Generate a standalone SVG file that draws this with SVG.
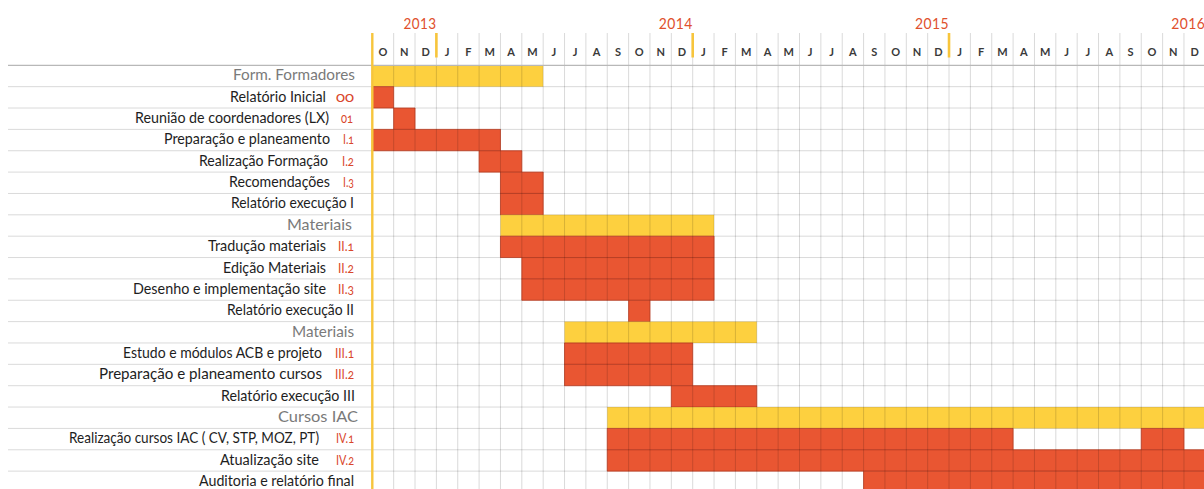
<svg xmlns="http://www.w3.org/2000/svg" width="1204" height="489" viewBox="0 0 1204 489">
<style>
.yr{font-family:Lato,"Liberation Sans",sans-serif;font-size:16px;fill:#e0502d;text-anchor:end;letter-spacing:0.5px}
.mo{font-family:Lato,"Liberation Sans",sans-serif;font-size:11px;font-weight:700;fill:#3a3a3a;text-anchor:middle}
.lb{font-family:Lato,"Liberation Sans",sans-serif;font-size:15px;fill:#1e1e1e;text-anchor:end}
.gr{font-family:Lato,"Liberation Sans",sans-serif;font-size:15px;fill:#7a7a7a;text-anchor:end}
.cd{font-family:Lato,"Liberation Sans",sans-serif;font-size:14px;fill:#d9462b;text-anchor:end;font-variant-numeric:oldstyle-nums}
.y{fill:#fdd03f}
.r{fill:#e95632;stroke:#d6482a;stroke-width:0.8;vector-effect:non-scaling-stroke}
.grid{fill:none;stroke:#000;stroke-opacity:0.15;stroke-width:1}
.tick{stroke:#f7c53c;stroke-width:2.6}
</style>
<rect width="1204" height="489" fill="#fff"/>

<g id="years">
<text class="yr" x="436.4" y="28.5" textLength="33" lengthAdjust="spacingAndGlyphs">2013</text>
<text class="yr" x="692.7" y="28.5" textLength="34" lengthAdjust="spacingAndGlyphs">2014</text>
<text class="yr" x="949" y="28.5" textLength="34" lengthAdjust="spacingAndGlyphs">2015</text>
<text class="yr" x="1205.3" y="28.5" textLength="34" lengthAdjust="spacingAndGlyphs">2016</text>
</g>

<g id="months">
<text class="mo" x="382.98" y="56">O</text><text class="mo" x="404.34" y="56">N</text><text class="mo" x="425.7" y="56">D</text>
<text class="mo" x="447.06" y="56">J</text><text class="mo" x="468.42" y="56">F</text><text class="mo" x="489.78" y="56">M</text>
<text class="mo" x="511.14" y="56">A</text><text class="mo" x="532.5" y="56">M</text><text class="mo" x="553.86" y="56">J</text>
<text class="mo" x="575.22" y="56">J</text><text class="mo" x="596.58" y="56">A</text><text class="mo" x="617.94" y="56">S</text>
<text class="mo" x="639.3" y="56">O</text><text class="mo" x="660.66" y="56">N</text><text class="mo" x="682.02" y="56">D</text>
<text class="mo" x="703.38" y="56">J</text><text class="mo" x="724.74" y="56">F</text><text class="mo" x="746.1" y="56">M</text>
<text class="mo" x="767.46" y="56">A</text><text class="mo" x="788.82" y="56">M</text><text class="mo" x="810.18" y="56">J</text>
<text class="mo" x="831.54" y="56">J</text><text class="mo" x="852.9" y="56">A</text><text class="mo" x="874.26" y="56">S</text>
<text class="mo" x="895.62" y="56">O</text><text class="mo" x="916.98" y="56">N</text><text class="mo" x="938.34" y="56">D</text>
<text class="mo" x="959.7" y="56">J</text><text class="mo" x="981.06" y="56">F</text><text class="mo" x="1002.42" y="56">M</text>
<text class="mo" x="1023.78" y="56">A</text><text class="mo" x="1045.14" y="56">M</text><text class="mo" x="1066.5" y="56">J</text>
<text class="mo" x="1087.86" y="56">J</text><text class="mo" x="1109.22" y="56">A</text><text class="mo" x="1130.58" y="56">S</text>
<text class="mo" x="1151.94" y="56">O</text><text class="mo" x="1173.3" y="56">N</text><text class="mo" x="1194.66" y="56">D</text>
</g>

<g id="bars" transform="translate(372.3 65.3) scale(21.36)">
<rect id="bar-r0" class="y" x="0" y="0" width="8" height="1"/>
<rect id="bar-r1" class="r" x="0" y="1" width="1" height="1"/>
<rect id="bar-r2" class="r" x="1" y="2" width="1" height="1"/>
<rect id="bar-r3" class="r" x="0" y="3" width="6" height="1"/>
<rect id="bar-r4" class="r" x="5" y="4" width="2" height="1"/>
<rect id="bar-r5" class="r" x="6" y="5" width="2" height="1"/>
<rect id="bar-r6" class="r" x="6" y="6" width="2" height="1"/>
<rect id="bar-r7" class="y" x="6" y="7" width="10" height="1"/>
<rect id="bar-r8" class="r" x="6" y="8" width="10" height="1"/>
<rect id="bar-r9" class="r" x="7" y="9" width="9" height="1"/>
<rect id="bar-r10" class="r" x="7" y="10" width="9" height="1"/>
<rect id="bar-r11" class="r" x="12" y="11" width="1" height="1"/>
<rect id="bar-r12" class="y" x="9" y="12" width="9" height="1"/>
<rect id="bar-r13" class="r" x="9" y="13" width="6" height="1"/>
<rect id="bar-r14" class="r" x="9" y="14" width="6" height="1"/>
<rect id="bar-r15" class="r" x="14" y="15" width="4" height="1"/>
<rect id="bar-r16" class="y" x="11" y="16" width="28" height="1"/>
<rect id="bar-r17a" class="r" x="11" y="17" width="19" height="1"/>
<rect id="bar-r17b" class="r" x="36" y="17" width="2" height="1"/>
<rect id="bar-r18" class="r" x="11" y="18" width="28" height="1"/>
<rect id="bar-r19" class="r" x="23" y="19" width="16" height="1"/>
</g>

<g id="grid">
<path class="grid" d="M393.66 33V489M415.02 33V489M436.38 57V489M457.74 33V489M479.1 33V489M500.46 33V489M521.82 33V489M543.18 33V489M564.54 33V489M585.9 33V489M607.26 33V489M628.62 33V489M649.98 33V489M671.34 33V489M692.7 57V489M714.06 33V489M735.42 33V489M756.78 33V489M778.14 33V489M799.5 33V489M820.86 33V489M842.22 33V489M863.58 33V489M884.94 33V489M906.3 33V489M927.66 33V489M949.02 57V489M970.38 33V489M991.74 33V489M1013.1 33V489M1034.46 33V489M1055.82 33V489M1077.18 33V489M1098.54 33V489M1119.9 33V489M1141.26 33V489M1162.62 33V489M1183.98 33V489"/>
<path class="grid" d="M8 86.66H1204M8 108.02H1204M8 129.38H1204M8 150.74H1204M8 172.1H1204M8 193.46H1204M8 214.82H1204M8 236.18H1204M8 257.54H1204M8 278.9H1204M8 300.26H1204M8 321.62H1204M8 342.98H1204M8 364.34H1204M8 385.7H1204M8 407.06H1204M8 428.42H1204M8 449.78H1204M8 471.14H1204"/>
<path d="M8 65.3H1204" stroke="#b8b8b8" stroke-width="1.2"/>
<path class="tick" d="M436.38 33V57.5M692.7 33V57.5M949.02 33V57.5"/>
<path d="M372.3 33V489" stroke="#f7c53c" stroke-width="2.4"/>
</g>

<g id="labels">
<g id="row0"><text class="gr" x="355" y="80.3" textLength="122" lengthAdjust="spacingAndGlyphs">Form. Formadores</text></g>
<g id="row1"><text class="lb" x="326" y="101.66" textLength="96" lengthAdjust="spacingAndGlyphs">Relatório Inicial</text><text class="cd" x="354" y="101.66" textLength="18" lengthAdjust="spacingAndGlyphs">00</text></g>
<g id="row2"><text class="lb" x="329" y="123.02" textLength="194" lengthAdjust="spacingAndGlyphs">Reunião de coordenadores (LX)</text><text class="cd" x="353" y="123.02" textLength="12" lengthAdjust="spacingAndGlyphs">01</text></g>
<g id="row3"><text class="lb" x="330" y="144.38" textLength="166" lengthAdjust="spacingAndGlyphs">Preparação e planeamento</text><text class="cd" x="354" y="144.38" textLength="11" lengthAdjust="spacingAndGlyphs">I.1</text></g>
<g id="row4"><text class="lb" x="328" y="165.74" textLength="129" lengthAdjust="spacingAndGlyphs">Realização Formação</text><text class="cd" x="354" y="165.74" textLength="12" lengthAdjust="spacingAndGlyphs">I.2</text></g>
<g id="row5"><text class="lb" x="330" y="187.1" textLength="101" lengthAdjust="spacingAndGlyphs">Recomendações</text><text class="cd" x="354" y="187.1" textLength="11" lengthAdjust="spacingAndGlyphs">I.3</text></g>
<g id="row6"><text class="lb" x="354" y="208.46" textLength="123" lengthAdjust="spacingAndGlyphs">Relatório execução I</text></g>
<g id="row7"><text class="gr" x="352" y="229.82" textLength="65" lengthAdjust="spacingAndGlyphs">Materiais</text></g>
<g id="row8"><text class="lb" x="326" y="251.18" textLength="118" lengthAdjust="spacingAndGlyphs">Tradução materiais</text><text class="cd" x="354" y="251.18" textLength="16" lengthAdjust="spacingAndGlyphs">II.1</text></g>
<g id="row9"><text class="lb" x="326" y="272.54" textLength="103" lengthAdjust="spacingAndGlyphs">Edição Materiais</text><text class="cd" x="354" y="272.54" textLength="16" lengthAdjust="spacingAndGlyphs">II.2</text></g>
<g id="row10"><text class="lb" x="326" y="293.9" textLength="193" lengthAdjust="spacingAndGlyphs">Desenho e implementação site</text><text class="cd" x="354" y="293.9" textLength="16" lengthAdjust="spacingAndGlyphs">II.3</text></g>
<g id="row11"><text class="lb" x="354" y="315.26" textLength="127" lengthAdjust="spacingAndGlyphs">Relatório execução II</text></g>
<g id="row12"><text class="gr" x="354" y="336.62" textLength="62" lengthAdjust="spacingAndGlyphs">Materiais</text></g>
<g id="row13"><text class="lb" x="322" y="357.98" textLength="199" lengthAdjust="spacingAndGlyphs">Estudo e módulos ACB e projeto</text><text class="cd" x="354" y="357.98" textLength="19" lengthAdjust="spacingAndGlyphs">III.1</text></g>
<g id="row14"><text class="lb" x="322" y="379.34" textLength="223" lengthAdjust="spacingAndGlyphs">Preparação e planeamento cursos</text><text class="cd" x="354" y="379.34" textLength="19" lengthAdjust="spacingAndGlyphs">III.2</text></g>
<g id="row15"><text class="lb" x="355" y="400.7" textLength="134" lengthAdjust="spacingAndGlyphs">Relatório execução III</text></g>
<g id="row16"><text class="gr" x="358" y="422.06" textLength="80" lengthAdjust="spacingAndGlyphs">Cursos IAC</text></g>
<g id="row17"><text class="lb" x="319" y="443.42" textLength="250" lengthAdjust="spacingAndGlyphs">Realização cursos IAC ( CV, STP, MOZ, PT)</text><text class="cd" x="354" y="443.42" textLength="18" lengthAdjust="spacingAndGlyphs">IV.1</text></g>
<g id="row18"><text class="lb" x="319" y="464.78" textLength="99" lengthAdjust="spacingAndGlyphs">Atualização site</text><text class="cd" x="354" y="464.78" textLength="18" lengthAdjust="spacingAndGlyphs">IV.2</text></g>
<g id="row19"><text class="lb" x="354" y="486.14" textLength="155" lengthAdjust="spacingAndGlyphs">Auditoria e relatório final</text></g>
</g>
</svg>
